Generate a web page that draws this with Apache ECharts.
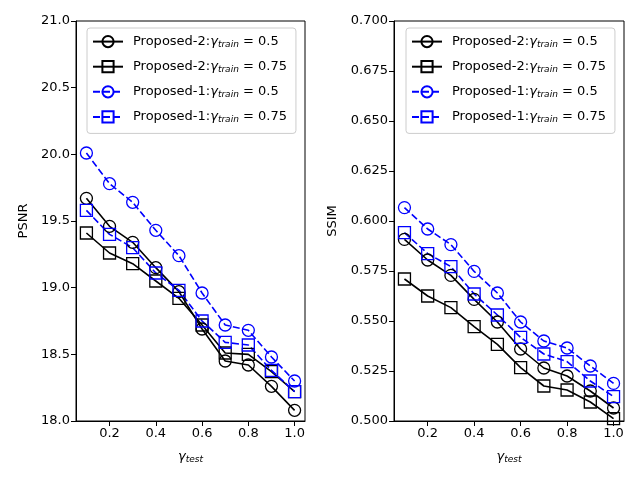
<!DOCTYPE html>
<html>
<head>
<meta charset="utf-8">
<script src="https://cdn.jsdelivr.net/npm/echarts@6/dist/echarts.min.js"></script>
<style>
    html, body {margin: 0; padding: 0; background: #fff;}
    #chart {width: 640px; height: 480px;}
</style>
</head>
<body>
<div id="chart"></div>
<script>
// gamma_test values
const gammaTest = [0.1, 0.2, 0.3, 0.4, 0.5, 0.6, 0.7, 0.8, 0.9, 1.0];
const xTicks = [0.2, 0.4, 0.6, 0.8, 1.0];

// PSNR
const psnrP2_05 = [19.67, 19.46, 19.34, 19.15, 18.97, 18.69, 18.45, 18.42, 18.26, 18.08];
const psnrP2_075 = [19.41, 19.26, 19.18, 19.05, 18.92, 18.72, 18.51, 18.50, 18.37, 18.22];
const psnrP1_05 = [20.01, 19.78, 19.64, 19.43, 19.24, 18.96, 18.72, 18.68, 18.48, 18.30];
const psnrP1_075 = [19.58, 19.40, 19.30, 19.11, 18.98, 18.75, 18.59, 18.57, 18.38, 18.22];

// SSIM
const ssimP2_05 = [0.5908, 0.5805, 0.5728, 0.5608, 0.5495, 0.5360, 0.5265, 0.5225, 0.5150, 0.5065];
const ssimP2_075 = [0.5710, 0.5625, 0.5567, 0.5472, 0.5383, 0.5267, 0.5175, 0.5155, 0.5095, 0.5012];
const ssimP1_05 = [0.6067, 0.5960, 0.5882, 0.5748, 0.5640, 0.5495, 0.5400, 0.5365, 0.5275, 0.5188];
const ssimP1_075 = [0.5942, 0.5837, 0.5772, 0.5635, 0.5530, 0.5418, 0.5335, 0.5297, 0.5200, 0.5122];

const legendNames = [
    'Proposed-2:|0.5',
    'Proposed-2:|0.75',
    'Proposed-1:|0.5',
    'Proposed-1:|0.75'
];

const FONT = 'DejaVu Sans';

function pairs(ys) {
    return gammaTest.map((x, i) => [x, ys[i]]);
}

function makeSeries(name, ys, color, dashed, symbol, idx) {
    return {
        name: name,
        type: 'line',
        xAxisIndex: idx,
        yAxisIndex: idx,
        data: pairs(ys),
        symbol: symbol,
        symbolSize: 12,
        showAllSymbol: true,
        animation: false,
        lineStyle: {color: color, width: 1.6, type: dashed ? [7, 3] : 'solid'},
        itemStyle: {color: 'rgba(0,0,0,0)', borderColor: color, borderWidth: 1.3}
    };
}

function legendFor(idx, left) {
    return {
        gridIndex: idx,
        orient: 'vertical',
        left: left,
        top: 28,
        padding: [7, 9, 9, 5],
        itemGap: 11,
        itemWidth: 30,
        itemHeight: 14,
        backgroundColor: 'rgba(255,255,255,0.8)',
        borderColor: '#cccccc',
        borderWidth: 1,
        borderRadius: 3,
        data: legendNames.map(n => n + '#' + idx),
        formatter: function (name) {
            let parts = name.split('#')[0].split('|');
            return '{a|' + parts[0] + '}{g|γ}{s|train}{b| = ' + parts[1] + '}';
        },
        textStyle: {
            rich: {
                a: {fontFamily: FONT, fontSize: 13, color: '#000', padding: [0, 0, 0, 5]},
                b: {fontFamily: FONT, fontSize: 13, color: '#000'},
                g: {fontFamily: FONT, fontSize: 13, fontStyle: 'italic', color: '#000'},
                s: {fontFamily: FONT, fontSize: 9, fontStyle: 'italic', color: '#000', padding: [6, 0, 0, 0]}
            }
        }
    };
}

function xAxisFor(idx) {
    return {
        type: 'value',
        gridIndex: idx,
        min: 0.055,
        max: 1.045,
        name: '{g|γ}{s|test}',
        nameLocation: 'middle',
        nameGap: 28,
        nameTextStyle: {
            rich: {
                g: {fontFamily: FONT, fontSize: 13, fontStyle: 'italic', color: '#000'},
                s: {fontFamily: FONT, fontSize: 9, fontStyle: 'italic', color: '#000', padding: [6, 0, 0, 0]}
            }
        },
        axisLine: {show: true, onZero: false, lineStyle: {color: '#000', width: 1}},
        axisTick: {show: true, inside: false, length: 5, customValues: xTicks, lineStyle: {color: '#000'}},
        axisLabel: {
            customValues: xTicks,
            fontFamily: FONT, fontSize: 13, color: '#000', margin: 6,
            formatter: v => v.toFixed(1)
        },
        splitLine: {show: false}
    };
}

function yAxisFor(idx, name, min, max, interval, digits, gap) {
    return {
        type: 'value',
        gridIndex: idx,
        min: min,
        max: max,
        interval: interval,
        name: name,
        nameLocation: 'middle',
        nameGap: gap,
        nameTextStyle: {fontFamily: FONT, fontSize: 13, color: '#000'},
        axisLine: {show: true, onZero: false, lineStyle: {color: '#000', width: 1}},
        axisTick: {show: true, inside: false, length: 5, lineStyle: {color: '#000'}},
        axisLabel: {
            fontFamily: FONT, fontSize: 13, color: '#000', margin: 6,
            formatter: v => v.toFixed(digits)
        },
        splitLine: {show: false}
    };
}

const chart = echarts.init(document.getElementById('chart'), null, {renderer: 'canvas'});

const option = {
    backgroundColor: '#fff',
    animation: false,
    grid: [
        {left: 76, right: 335, top: 21, bottom: 59, show: true, borderColor: '#000', borderWidth: 1, backgroundColor: 'transparent'},
        {left: 394, right: 16, top: 21, bottom: 59, show: true, borderColor: '#000', borderWidth: 1, backgroundColor: 'transparent'}
    ],
    legend: [legendFor(0, 87), legendFor(1, 406)],
    xAxis: [xAxisFor(0), xAxisFor(1)],
    yAxis: [
        yAxisFor(0, 'PSNR', 18, 21, 0.5, 1, 46),
        yAxisFor(1, 'SSIM', 0.5, 0.7, 0.025, 3, 55)
    ],
    series: [
        makeSeries(legendNames[0] + '#0', psnrP2_05, '#000000', false, 'circle', 0),
        makeSeries(legendNames[1] + '#0', psnrP2_075, '#000000', false, 'rect', 0),
        makeSeries(legendNames[2] + '#0', psnrP1_05, '#0000ff', true, 'circle', 0),
        makeSeries(legendNames[3] + '#0', psnrP1_075, '#0000ff', true, 'rect', 0),
        makeSeries(legendNames[0] + '#1', ssimP2_05, '#000000', false, 'circle', 1),
        makeSeries(legendNames[1] + '#1', ssimP2_075, '#000000', false, 'rect', 1),
        makeSeries(legendNames[2] + '#1', ssimP1_05, '#0000ff', true, 'circle', 1),
        makeSeries(legendNames[3] + '#1', ssimP1_075, '#0000ff', true, 'rect', 1)
    ]
};

chart.setOption(option);
</script>
</body>
</html>
